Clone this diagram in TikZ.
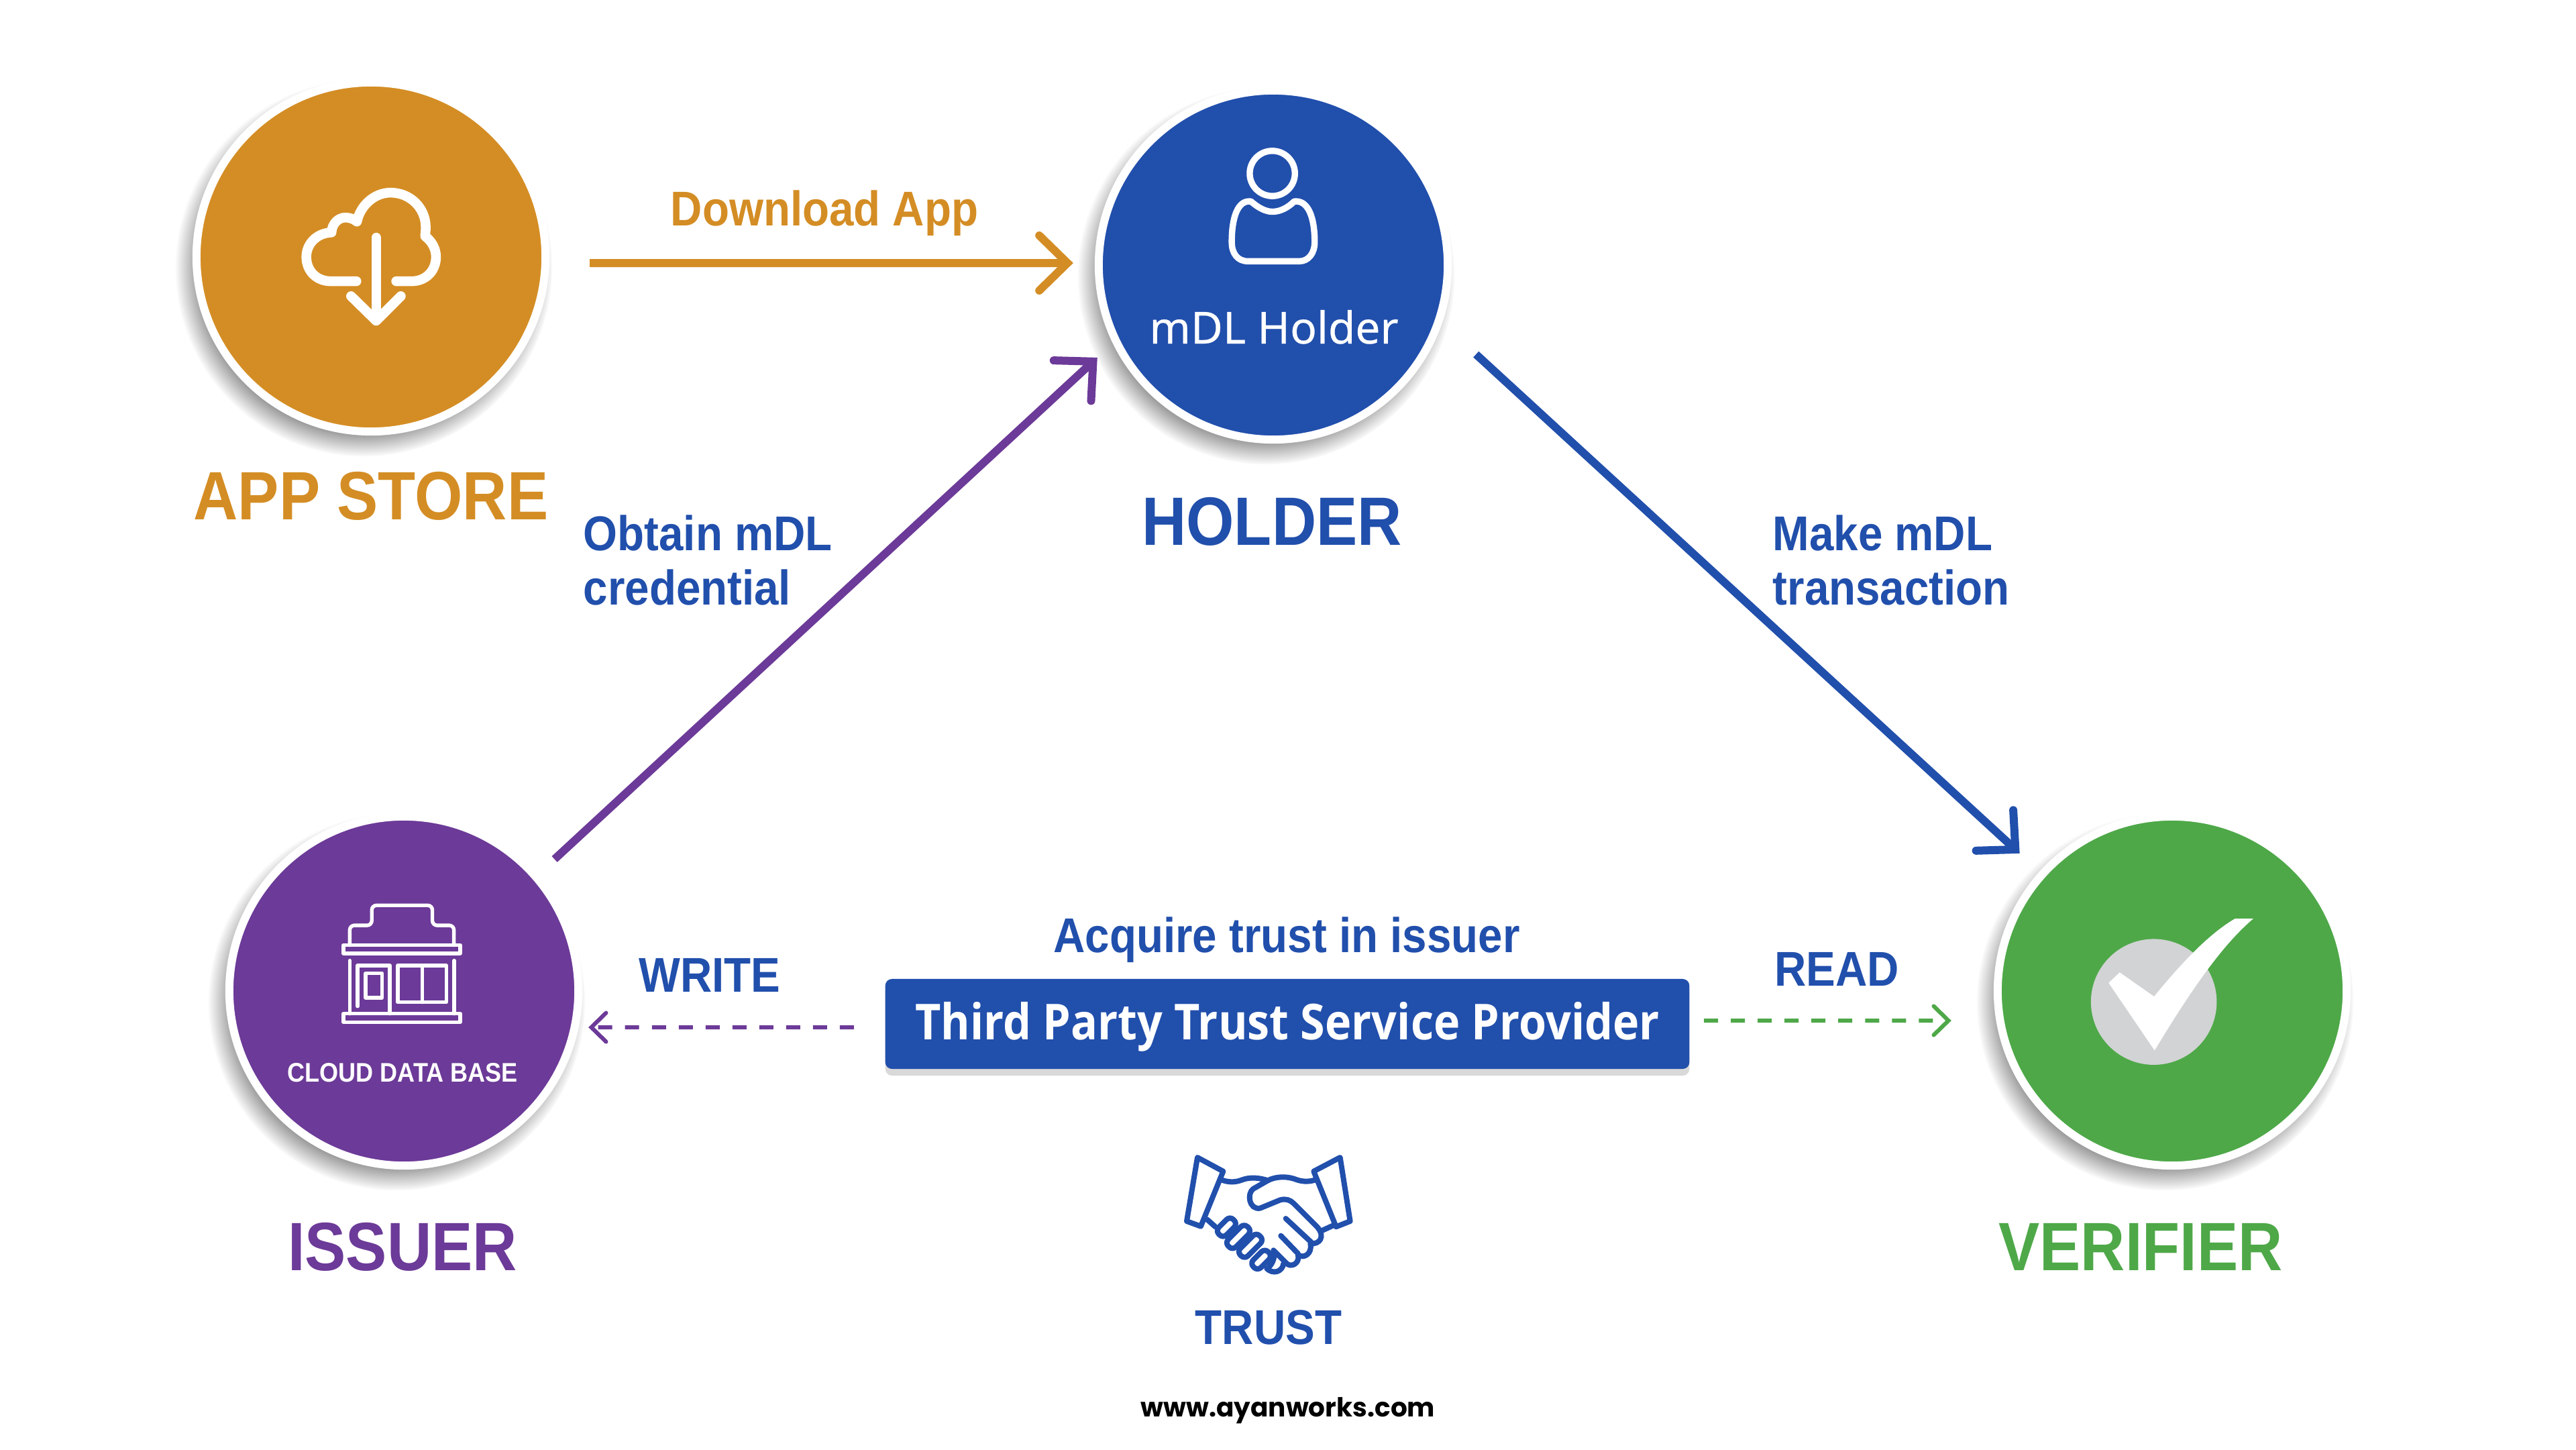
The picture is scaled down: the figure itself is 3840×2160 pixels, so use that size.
\documentclass[tikz,border=0pt]{standalone}
\usepackage{fontspec}
\setmainfont{Liberation Sans}[FakeStretch=0.9]
\newfontfamily\notofont{Noto Sans}[FakeBold=0.4]
\newfontfamily\tspfont{Open Sans}[FakeStretch=0.9]
\newfontfamily\webfont{Poppins}
\usetikzlibrary{arrows.meta,shadows}
\definecolor{storeorange}{HTML}{D48D24}
\definecolor{holderblue}{HTML}{214FAC}
\definecolor{issuerpurple}{HTML}{6C3A98}
\definecolor{verifiergreen}{HTML}{4EA848}
\definecolor{checkgrey}{HTML}{D1D3D4}
\begin{document}
\begin{tikzpicture}[x=0.01cm, y=-0.01cm,
    badge/.style={shape=circle, draw=white, line width=0.12cm, minimum size=5.2cm, inner sep=0pt,
                  circular drop shadow={shadow xshift=-0.1cm, shadow yshift=-0.15cm, shadow scale=1.08, opacity=0.95}},
    title/.style={anchor=base, inner sep=0pt, font=\bfseries\fontsize{29}{35}\selectfont},
    caption/.style={anchor=base, inner sep=0pt, text=holderblue, font=\bfseries\fontsize{20.7}{23}\selectfont},
    flow/.style={line width=0.12cm, -{Straight Barb[length=0.42cm, width=0.82cm, line cap=round]}},
    trustflow/.style={line width=0.06cm, dash pattern=on 0.21cm off 0.19cm,
                  -{Straight Barb[length=0.22cm, width=0.43cm, line cap=round]}},
    icon/.style={draw=white, line cap=round, line join=round}]
  \useasboundingbox (0,0) rectangle (3840,2160);

  \node[badge, fill=storeorange] (store) at (553,383) {};
  \node[badge, fill=holderblue] (holder) at (1898,395) {};
  \node[badge, fill=issuerpurple] (issuer) at (602,1477) {};
  \node[badge, fill=verifiergreen] (verifier) at (3238,1477) {};
  \node[anchor=center, shape=rectangle, rounded corners=0.1cm, fill=holderblue, minimum width=11.98cm, minimum height=1.34cm,
        drop shadow={shadow xshift=0cm, shadow yshift=-0.1cm, opacity=0.3}] (tsp) at (1919,1526) {};

  \node[title, text=storeorange] (storetitle) at (553,774) {APP STORE};
  \node[title, text=holderblue] (holdertitle) at (1896,812) {HOLDER};
  \node[title, text=issuerpurple] (issuertitle) at (600,1893) {ISSUER};
  \node[title, text=verifiergreen] (verifiertitle) at (3191,1893) {VERIFIER};

  \node[caption, text=storeorange] (download) at (1229,336) {Download App};
  \node[caption, anchor=base west, align=left] (obtain) at (869,901) {Obtain mDL\\credential};
  \node[caption, anchor=base west, align=left] (make) at (2642,901) {Make mDL\\transaction};
  \node[caption] (acquire) at (1918,1419) {Acquire trust in issuer};
  \node[caption] (write) at (1058,1478) {WRITE};
  \node[caption] (read) at (2738,1469) {READ};
  \node[caption] (trust) at (1891,2003) {TRUST};
  \node[anchor=base, inner sep=0pt, font=\webfont\bfseries\fontsize{11.1}{14}\selectfont] (web) at (1920,2111) {www.ayanworks.com};
  \node[anchor=base, inner sep=0pt, text=white, font=\tspfont\bfseries\fontsize{21}{25}\selectfont] (tsplabel) at (1919,1549) {Third Party Trust Service Provider};
  \node[anchor=base, inner sep=0pt, text=white, font=\notofont\fontsize{18.7}{23}\selectfont] (holderlabel) at (1899,512) {mDL Holder};
  \node[anchor=base, inner sep=0pt, text=white, font=\bfseries\fontsize{11.4}{13}\selectfont] (issuerlabel) at (600,1612) {CLOUD DATA BASE};

  \draw[flow, storeorange, shorten <=0.60cm, shorten >=0.32cm] ([yshift=-0.09cm]store.east) -- ([yshift=0.03cm]holder.west);
  \draw[flow, issuerpurple, shorten <=0.323cm, shorten >=0.313cm] (issuer.41.2) -- (holder.206.5);
  \draw[flow, holderblue, shorten <=0.686cm, shorten >=0.401cm] (holder.-19.7) -- (verifier.138.9);
  \draw[trustflow, issuerpurple, shorten <=0.46cm, shorten >=0.09cm] ([yshift=-0.05cm]tsp.west) -- ([yshift=-0.54cm]issuer.east);
  \draw[trustflow, verifiergreen, shorten <=0.21cm, shorten >=0.63cm] ([yshift=0.05cm]tsp.east) -- ([yshift=-0.44cm]verifier.west);

  \begin{scope}[shift={(250,90)}, scale=0.3827]
    \draw[icon, line width=0.145cm] (735,860) -- (635,860) .. controls (580,860) and (540,820) .. (540,765)
      .. controls (540,715) and (580,672) .. (638,670) .. controls (640,635) and (665,612) .. (692,612)
      .. controls (710,612) and (725,618) .. (737,628) .. controls (750,565) and (805,515) .. (868,515)
      .. controls (945,515) and (1005,575) .. (1005,650) .. controls (1005,665) and (1003,675) .. (1003,685)
      .. controls (1030,705) and (1045,735) .. (1045,765) .. controls (1045,820) and (1005,860) .. (950,860) -- (890,860);
    \draw[icon, line width=0.145cm] (812,690) -- (812,1012);
    \draw[icon, line width=0.145cm] (714,918) -- (812,1014) -- (908,918);
  \end{scope}

  \begin{scope}[shift={(1600,110)}, scale=0.3827]
    \draw[icon, line width=0.094cm] (775,388) circle (88);
    \draw[icon, line width=0.094cm] (692,497) .. controls (720,522) and (750,537) .. (775,537)
      .. controls (805,537) and (835,522) .. (860,497) .. controls (915,490) and (940,560) .. (940,655)
      .. controls (940,700) and (915,730) .. (880,730) -- (680,730)
      .. controls (640,730) and (617,700) .. (617,655) .. controls (617,560) and (640,490) .. (692,497) -- cycle;
  \end{scope}

  \begin{scope}[shift={(320,1200)}, scale=0.3827]
    \draw[icon, line width=0.054cm, rounded corners=0.07cm] (526,545) -- (526,468) -- (612,468) -- (612,390)
      -- (848,390) -- (848,468) -- (932,468) -- (932,545);
    \draw[icon, line width=0.054cm] (502,545) rectangle (956,577);
    \draw[icon, line width=0.054cm] (502,812) rectangle (956,845);
    \foreach \colx in {526,933} {
      \draw[icon, line width=0.054cm] (\colx,605) -- (\colx,812);
    }
    \draw[icon, line width=0.054cm] (557,783) -- (557,624) -- (682,624) -- (682,812);
    \draw[icon, line width=0.054cm] (588,655) rectangle (652,750);
    \draw[icon, line width=0.054cm] (713,624) rectangle (902,767);
    \draw[icon, line width=0.054cm] (808,624) -- (808,767);
  \end{scope}

  \begin{scope}[shift={(2950,1200)}, scale=0.3827]
    \fill[checkgrey] (681,766) circle (245);
    \fill[white] (505,692) -- (548,651) -- (682,745) .. controls (760,650) and (880,510) .. (997,442) -- (1068,442)
      .. controls (960,535) and (850,680) .. (684,955) -- cycle;
  \end{scope}

  \begin{scope}[shift={(1700,1680)}, scale=0.3333, line width=0.08cm, draw=holderblue, line join=round, line cap=round]
    \draw (255,135) -- (370,197) -- (270,443) -- (207,420) -- cycle;
    \draw (893,135) -- (775,197) -- (875,445) -- (938,420) -- cycle;
    \draw (368,237) .. controls (400,248) and (430,245) .. (455,235) .. controls (490,222) and (530,225) .. (570,238);
    \draw (782,235) .. controls (760,243) and (730,245) .. (700,235) .. controls (650,215) and (600,222) .. (570,238)
      -- (505,275) .. controls (475,295) and (485,370) .. (535,362) -- (625,325) .. controls (650,318) and (670,325) .. (685,340)
      -- (790,445) .. controls (830,490) and (800,525) .. (760,520) .. controls (770,565) and (730,590) .. (705,570)
      .. controls (715,610) and (670,632) .. (650,605) -- (595,550) .. controls (605,580) and (590,610) .. (575,625);
    \draw (650,408) -- (765,515);
    \draw (628,485) -- (705,565);
    \draw (640,610) .. controls (635,645) and (595,660) .. (565,632);
    \draw (298,412) -- (335,445);
    \draw (812,462) -- (860,440);
    \foreach \pillx/\pilly/\pilllen in {385/447/46, 438/490/61, 492/530/61, 540/592/47} {
      \draw[rotate around={45:(\pillx,\pilly)}, rounded corners=0.07cm]
        (\pillx-\pilllen,\pilly-24) rectangle (\pillx+\pilllen,\pilly+24);
    }
  \end{scope}
\end{tikzpicture}
\end{document}
